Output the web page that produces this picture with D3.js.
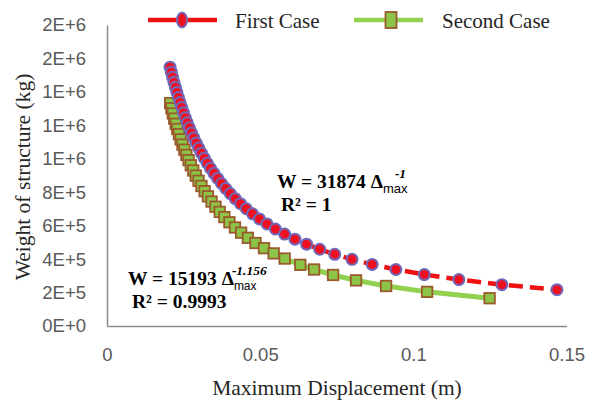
<!DOCTYPE html>
<html>
<head>
<meta charset="utf-8">
<script src="https://d3js.org/d3.v7.min.js"></script>
<style>
  body { margin: 0; background: #fff; }
  svg { display: block; }
</style>
</head>
<body>
<div id="chart"></div>
<script>
// values
var seriesNames = ['First Case', 'Second Case'];

var firstDisp = [0.02059, 0.02100, 0.02143, 0.02187, 0.02234, 0.02282, 0.02333, 0.02385, 0.02441,
  0.02498, 0.02559, 0.02623, 0.02690, 0.02760, 0.02835, 0.02913, 0.02996, 0.03083, 0.03176,
  0.03275, 0.03380, 0.03492, 0.03612, 0.03740, 0.03878, 0.04026, 0.04186, 0.04359, 0.04547,
  0.04752, 0.04976, 0.05223, 0.05496, 0.05798, 0.06136, 0.06515, 0.06944, 0.07434, 0.07999,
  0.08656, 0.09430, 0.10357, 0.11486, 0.12891, 0.14688];
var firstWeight = [1548000, 1517750, 1487500, 1457250, 1427000, 1396750, 1366500, 1336250, 1306000,
  1275750, 1245500, 1215250, 1185000, 1154750, 1124500, 1094250, 1064000, 1033750, 1003500,
  973250, 943000, 912750, 882500, 852250, 822000, 791750, 761500, 731250, 701000,
  670750, 640500, 610250, 580000, 549750, 519500, 489250, 459000, 428750, 398500,
  368250, 338000, 307750, 277500, 247250, 217000];

var secondDisp = [0.02062, 0.02104, 0.02149, 0.02195, 0.02243, 0.02294, 0.02348, 0.02404, 0.02463,
  0.02526, 0.02592, 0.02662, 0.02736, 0.02815, 0.02898, 0.02988, 0.03083, 0.03186, 0.03295,
  0.03414, 0.03542, 0.03680, 0.03832, 0.03997, 0.04178, 0.04378, 0.04599, 0.04847, 0.05125,
  0.05440, 0.0580, 0.0631, 0.0676, 0.0738, 0.0813, 0.0911, 0.1045, 0.1249];
var secondWeight = [1333000, 1302010, 1271020, 1240030, 1209040, 1178050, 1147060, 1116070, 1085080,
  1054090, 1023100, 992110, 961120, 930130, 899140, 868150, 837160, 806170, 775180,
  744190, 713200, 682210, 651220, 620230, 589240, 558250, 527260, 496270, 465280,
  434290, 403300, 365800, 337800, 305200, 272900, 239300, 204200, 166100];

var xTicks = [0, 0.05, 0.1, 0.15];
var xTickLabels = ['0', '0.05', '0.1', '0.15'];
var yTicks = [0, 200000, 400000, 600000, 800000, 1000000, 1200000, 1400000, 1600000, 1800000];

var width = 595, height = 403;
var serif = '"Liberation Serif", "Times New Roman", serif';
var sans = '"Liberation Sans", Arial, sans-serif';

var svg = d3.select('#chart').append('svg')
  .attr('width', width)
  .attr('height', height);

var x = d3.scaleLinear().domain([0, 0.15]).range([107, 566.5]);
var y = d3.scaleLinear().domain([0, 1800000]).range([326, 25]);

var expFmt = d3.format('.0e');

// axes
var yAxis = svg.append('g')
  .attr('transform', 'translate(' + x(0) + ',0)')
  .call(d3.axisLeft(y).tickValues(yTicks).tickSize(0).tickPadding(21)
    .tickFormat(d => expFmt(d).toUpperCase()));

var xAxis = svg.append('g')
  .attr('transform', 'translate(0,' + y(0) + ')')
  .call(d3.axisBottom(x).tickValues(xTicks).tickSize(0).tickPadding(22)
    .tickFormat((d, i) => xTickLabels[i]));

[yAxis, xAxis].forEach(function(a) {
  a.select('.domain').attr('stroke', '#8a8a8a').attr('stroke-width', 1.5);
  a.selectAll('text')
    .attr('fill', '#595959')
    .style('font-family', sans)
    .style('font-size', '18.5px');
});

// axis titles
svg.append('text')
  .attr('x', 337).attr('y', 395)
  .attr('text-anchor', 'middle')
  .style('font-family', serif).style('font-size', '21.5px')
  .attr('fill', '#262626')
  .text('Maximum Displacement (m)');

svg.append('text')
  .attr('transform', 'translate(30,177) rotate(-90)')
  .attr('text-anchor', 'middle')
  .style('font-family', serif).style('font-size', '21.5px')
  .attr('fill', '#262626')
  .text('Weight of structure (kg)');

// series
var first = firstDisp.map((d, i) => ({ x: d, y: firstWeight[i] }));
var second = secondDisp.map((d, i) => ({ x: d, y: secondWeight[i] }));

var line = d3.line().x(d => x(d.x)).y(d => y(d.y));

var sq = 10.5;

svg.append('path')
  .datum(second)
  .attr('d', line)
  .attr('fill', 'none')
  .attr('stroke', '#92d050')
  .attr('stroke-width', 5);

svg.append('g').selectAll('rect')
  .data(second)
  .enter().append('rect')
  .attr('x', d => x(d.x) - sq / 2)
  .attr('y', d => y(d.y) - sq / 2)
  .attr('width', sq).attr('height', sq)
  .attr('fill', '#8cc448')
  .attr('stroke', '#9a5a2c')
  .attr('stroke-width', 1.8);

svg.append('path')
  .datum(first)
  .attr('d', line)
  .attr('fill', 'none')
  .attr('stroke', '#ee1111')
  .attr('stroke-width', 4.5)
  .attr('stroke-dasharray', '14,7');

svg.append('g').selectAll('circle')
  .data(first)
  .enter().append('circle')
  .attr('cx', d => x(d.x))
  .attr('cy', d => y(d.y))
  .attr('r', 5.5)
  .attr('fill', '#ee1122')
  .attr('stroke', '#7068b8')
  .attr('stroke-width', 2);

// legend
var legend = svg.append('g');
legend.append('line')
  .attr('x1', 148).attr('x2', 217).attr('y1', 20).attr('y2', 20)
  .attr('stroke', '#ee1111').attr('stroke-width', 4.5);
legend.append('ellipse')
  .attr('cx', 182).attr('cy', 20).attr('rx', 5).attr('ry', 7.5)
  .attr('fill', '#ee1122').attr('stroke', '#7068b8').attr('stroke-width', 2);
legend.append('text')
  .attr('x', 235).attr('y', 28)
  .style('font-family', serif).style('font-size', '21px')
  .attr('fill', '#262626')
  .text(seriesNames[0]);

legend.append('line')
  .attr('x1', 354).attr('x2', 423).attr('y1', 20).attr('y2', 20)
  .attr('stroke', '#92d050').attr('stroke-width', 4.5);
legend.append('rect')
  .attr('x', 391 - 5.5).attr('y', 20 - 8).attr('width', 11).attr('height', 16)
  .attr('fill', '#8cc448').attr('stroke', '#9a5a2c').attr('stroke-width', 1.8);
legend.append('text')
  .attr('x', 442).attr('y', 28)
  .style('font-family', serif).style('font-size', '21px')
  .attr('fill', '#262626')
  .text(seriesNames[1]);

// trendline equations
function equation(px, py, coef, sup, supDx, subSize, r2) {
  var g = svg.append('g');
  var main = g.append('text')
    .attr('x', px).attr('y', py)
    .style('font-family', serif).style('font-size', '19.5px').style('font-weight', 'bold')
    .text('W = ' + coef + ' \u0394');
  var end = px + main.node().getComputedTextLength();
  g.append('text')
    .attr('x', end).attr('y', py + 5)
    .style('font-family', sans).style('font-size', subSize + 'px')
    .text('max');
  g.append('text')
    .attr('x', end + supDx).attr('y', py - 10)
    .style('font-family', serif).style('font-size', '13.5px')
    .style('font-weight', 'bold').style('font-style', 'italic')
    .text(sup);
  g.append('text')
    .attr('x', px + 4).attr('y', py + 23)
    .style('font-family', serif).style('font-size', '19.5px').style('font-weight', 'bold')
    .text('R\u00b2 = ' + r2);
}

equation(277, 188, '31874', '-1', 12, 13, '1');
equation(128, 285, '15193', '-1.156', -2, 12, '0.9993');
</script>
</body>
</html>
